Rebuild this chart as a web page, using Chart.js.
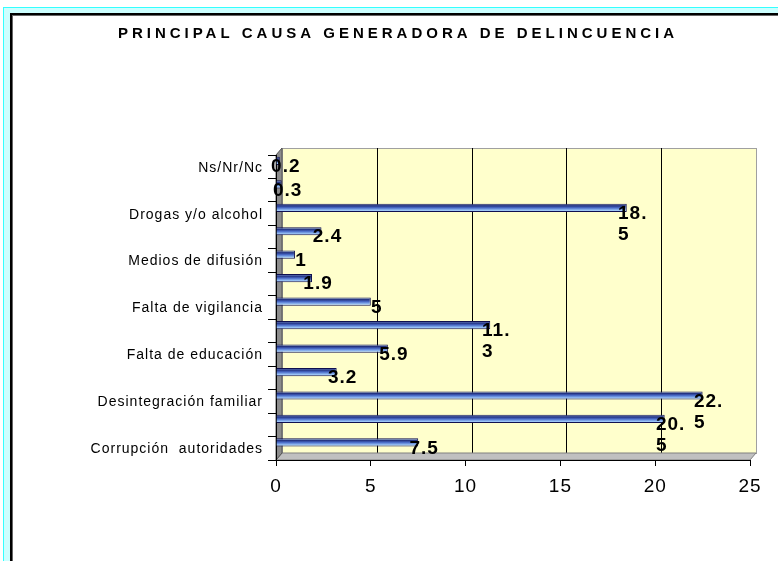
<!DOCTYPE html>
<html>
<head>
<meta charset="utf-8">
<title>Principal causa generadora de delincuencia</title>
<script src="https://cdn.jsdelivr.net/npm/chart.js@4.4.1/dist/chart.umd.min.js"></script>
<style>
  html, body { margin: 0; padding: 0; background: #fff; overflow: hidden; }
  #frame { position: absolute; left: 3px; top: 7px; width: 900px; height: 700px;
           background: #CCFFFF; border-left: 1px solid #33FFFF; border-top: 1px solid #33FFFF; }
  #sheet { position: absolute; left: 10px; top: 13px; width: 900px; height: 700px;
           background: #fff; border-left: 2px solid #000; border-top: 2px solid #000;
           box-shadow: inset 1px 1px 0 #666; }
  #chart { position: absolute; left: 0; top: 0; }
</style>
</head>
<body>
<div id="frame"></div>
<div id="sheet"></div>
<canvas id="chart" width="778" height="561"></canvas>
<script>
const chartTitle = 'PRINCIPAL CAUSA GENERADORA DE DELINCUENCIA';

// top to bottom, as in the picture (only every other category is labelled)
const categories = [
    'Ns/Nr/Nc', '', 'Drogas y/o alcohol', '', 'Medios de difusión', '',
    'Falta de vigilancia', '', 'Falta de educación', '', 'Desintegración familiar', '',
    'Corrupción  autoridades'
];
const percentages = [0.2, 0.3, 18.5, 2.4, 1, 1.9, 5, 11.3, 5.9, 3.2, 22.5, 20.5, 7.5];

const xMin = 0;
const xMax = 25;
const xStep = 5;

const FONT = "Arial, 'Liberation Sans', sans-serif";
const DEPTH_X = 6;   // fake 3d depth of the back wall
const DEPTH_Y = 7;

// bar fill: cylinder-like blue gradient, built per bar from the category scale
function barFill(c) {
    const y = c.chart.scales.y;
    if (c.type !== 'data' || !y) return '#5b7fd0';
    const band = y.getPixelForValue(1) - y.getPixelForValue(0);
    const mid = y.getPixelForValue(c.dataIndex) - band / 4;
    const h = band / 2 * 0.7;
    if (!isFinite(mid) || !isFinite(h)) return '#5b7fd0';
    const g = c.chart.ctx.createLinearGradient(0, mid - h / 2, 0, mid + h / 2);
    g.addColorStop(0, '#a4c8f8');
    g.addColorStop(0.25, '#23317f');
    g.addColorStop(0.5, '#4a6cc8');
    g.addColorStop(0.8, '#98c2f6');
    g.addColorStop(1, '#c4defc');
    return g;
}

const wallsPlugin = {
    id: 'walls3d',
    beforeDraw(chart) {
        const { ctx, chartArea: a, scales } = chart;
        ctx.save();
        // back wall
        ctx.fillStyle = '#FFFFCC';
        ctx.fillRect(a.left + DEPTH_X, a.top - DEPTH_Y, a.right - a.left, a.bottom - a.top);
        ctx.strokeStyle = '#a0a0a0';
        ctx.lineWidth = 1;
        ctx.strokeRect(a.left + DEPTH_X + 0.5, a.top - DEPTH_Y + 0.5, a.right - a.left, a.bottom - a.top);
        // vertical gridlines on the back wall
        ctx.strokeStyle = '#000';
        for (let v = xMin + xStep; v < xMax; v += xStep) {
            const px = Math.round(scales.x.getPixelForValue(v)) + DEPTH_X + 0.5;
            ctx.beginPath();
            ctx.moveTo(px, a.top - DEPTH_Y);
            ctx.lineTo(px, a.bottom - DEPTH_Y);
            ctx.stroke();
        }
        // floor
        ctx.fillStyle = '#c0c0c0';
        ctx.beginPath();
        ctx.moveTo(a.left, a.bottom);
        ctx.lineTo(a.left + DEPTH_X, a.bottom - DEPTH_Y);
        ctx.lineTo(a.right + DEPTH_X, a.bottom - DEPTH_Y);
        ctx.lineTo(a.right, a.bottom);
        ctx.closePath();
        ctx.fill();
        ctx.strokeStyle = '#808080';
        ctx.stroke();
        // side wall
        ctx.fillStyle = '#8c8c8c';
        ctx.beginPath();
        ctx.moveTo(a.left, a.top);
        ctx.lineTo(a.left + DEPTH_X, a.top - DEPTH_Y);
        ctx.lineTo(a.left + DEPTH_X, a.bottom - DEPTH_Y);
        ctx.lineTo(a.left, a.bottom);
        ctx.closePath();
        ctx.fill();
        ctx.strokeStyle = '#555';
        ctx.stroke();
        ctx.restore();
        // spaced-out lettering like the original for the axis text
        ctx.letterSpacing = '1px';
    },
    afterDraw(chart) {
        const ctx = chart.ctx;
        ctx.save();
        ctx.font = 'bold 15px ' + FONT;
        ctx.letterSpacing = '4px';
        ctx.fillStyle = '#000';
        ctx.textAlign = 'center';
        ctx.textBaseline = 'alphabetic';
        ctx.fillText(chartTitle, 398, 38);
        ctx.restore();
    }
};

const valueLabels = {
    id: 'valueLabels',
    afterDatasetsDraw(chart) {
        const ctx = chart.ctx;
        const meta = chart.getDatasetMeta(0);
        ctx.save();
        ctx.font = 'bold 19px ' + FONT;
        ctx.letterSpacing = '1px';
        ctx.fillStyle = '#000';
        ctx.textAlign = 'left';
        ctx.textBaseline = 'middle';
        meta.data.forEach((bar, i) => {
            const txt = String(percentages[i]);
            // long labels wrap after the decimal point, as in the original
            const lines = txt.length > 3 ? [txt.slice(0, 3), txt.slice(3)] : [txt];
            const w = ctx.measureText(lines[0]).width;
            const left = bar.x + 6 - w / 2;
            lines.forEach((ln, k) => ctx.fillText(ln, left, bar.y + 6 + k * 21));
        });
        ctx.restore();
    }
};

new Chart(document.getElementById('chart'), {
    type: 'bar',
    data: {
        labels: categories,
        datasets: [{
            label: '%',
            data: percentages,
            backgroundColor: barFill,
            borderColor: '#101050',
            borderWidth: 1,
            borderSkipped: 'start'
        }, {
            // empty second series: keeps each bar in the upper half of its band
            label: '',
            data: []
        }]
    },
    options: {
        indexAxis: 'y',
        responsive: false,
        animation: false,
        categoryPercentage: 1,
        barPercentage: 0.7,
        layout: { padding: { left: 10, top: 155, right: 28, bottom: 0 } },
        scales: {
            x: {
                min: xMin,
                max: xMax,
                ticks: {
                    stepSize: xStep,
                    color: '#000',
                    padding: 9,
                    maxRotation: 0,
                    font: { family: FONT, size: 19 }
                },
                grid: { drawOnChartArea: false, drawTicks: true, tickLength: 6, color: '#000' },
                border: { display: true, color: '#000', width: 1 },
                afterFit(scale) { scale.height = 101; }
            },
            y: {
                ticks: {
                    autoSkip: false,
                    color: '#000',
                    padding: 5,
                    labelOffset: 1,
                    font: { family: FONT, size: 14 }
                },
                grid: { offset: true, drawOnChartArea: false, drawTicks: true, tickLength: 8, color: '#000' },
                border: { display: true, color: '#000', width: 1 },
                afterFit(scale) { scale.width = 266; }
            }
        },
        plugins: {
            legend: { display: false },
            tooltip: { enabled: false },
            title: { display: false }
        }
    },
    plugins: [wallsPlugin, valueLabels]
});
</script>
</body>
</html>
